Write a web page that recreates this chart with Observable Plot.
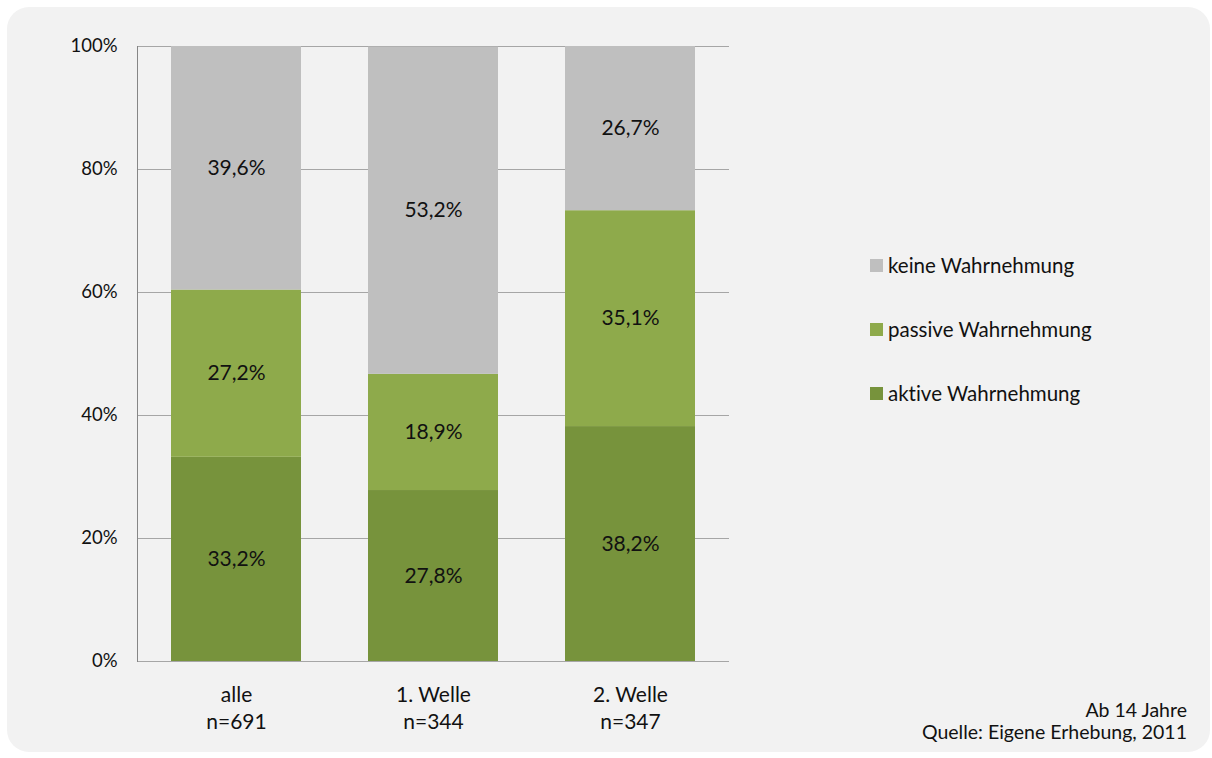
<!DOCTYPE html>
<html lang="de">
<head>
<meta charset="utf-8">
<script src="https://cdn.jsdelivr.net/npm/d3@7"></script>
<script src="https://cdn.jsdelivr.net/npm/@observablehq/plot@0.6"></script>
<style>
  html, body { margin: 0; padding: 0; background: #ffffff; }
  #wrap { position: relative; width: 1212px; height: 758px; font-family: Lato, "Open Sans", sans-serif; color: #111; font-variant-ligatures: none; }
  #wrap svg text { font-variant-ligatures: none; }
  #panel { position: absolute; left: 7px; top: 7px; width: 1203px; height: 745px; background: #f2f2f2; border-radius: 22px; }
  #chart { position: absolute; left: 0; top: 0; }
  #legend { position: absolute; left: 870px; top: 254px; font-size: 20.5px; }
  #legend .item { display: flex; align-items: center; height: 22px; margin-bottom: 42px; white-space: nowrap; }
  #legend .sw { width: 13px; height: 13px; margin-right: 5px; flex: none; }
  #note { position: absolute; right: 25px; top: 699px; font-size: 19.5px; line-height: 22px; text-align: right; white-space: nowrap; }
</style>
</head>
<body>
<div id="wrap">
  <div id="panel"></div>
  <div id="chart"></div>
  <div id="legend"></div>
  <div id="note">Ab 14 Jahre<br>Quelle: Eigene Erhebung, 2011</div>
</div>
<script>
// Gruppen (x-Achse) mit Stichprobengröße
const groups = ["alle", "1. Welle", "2. Welle"];
const sampleSizes = [691, 344, 347];

// Anteile in Prozent je Gruppe, von unten nach oben gestapelt
const series = ["aktive Wahrnehmung", "passive Wahrnehmung", "keine Wahrnehmung"];
const aktive = [33.2, 27.8, 38.2];
const passive = [27.2, 18.9, 35.1];
const keine = [39.6, 53.2, 26.7];
const colors = ["#77933c", "#8eaa4b", "#bfbfbf"];

const yTicks = [0, 20, 40, 60, 80, 100];

const rows = [];
groups.forEach((g, i) => {
  [aktive, passive, keine].forEach((vals, j) => {
    rows.push({group: g, series: series[j], value: vals[i]});
  });
});

const fmt = v => v.toFixed(1).replace(".", ",") + "%";
const groupLabel = g => `${g}\nn=${sampleSizes[groups.indexOf(g)]}`;

const chart = Plot.plot({
  width: 1212,
  height: 758,
  marginLeft: 137,
  marginRight: 483,
  marginTop: 46,
  marginBottom: 97,
  style: {background: "transparent", fontFamily: "Lato, 'Open Sans', sans-serif", fontSize: "18px", color: "#111"},
  x: {domain: groups, paddingInner: 0.34, paddingOuter: 0.17, label: null},
  y: {domain: [0, 100], label: null},
  color: {domain: series, range: colors},
  marks: [
    Plot.ruleY(yTicks, {stroke: "#a6a6a6", strokeWidth: 1}),
    Plot.barY(rows, Plot.stackY({x: "group", y: "value", fill: "series", order: series})),
    Plot.frame({anchor: "left", stroke: "#868686"}),
    Plot.textY(rows, Plot.stackY({
      x: "group", y: "value", z: "series", order: series,
      text: d => fmt(d.value), fontSize: 21, fill: "#111"
    })),
    Plot.axisY({ticks: yTicks, tickSize: 0, tickPadding: 20, tickFormat: d => d + "%", fontSize: 18.5, fill: "#111", label: null}),
    Plot.axisX({tickSize: 0, tickPadding: 21, tickFormat: groupLabel, lineHeight: 1.3, fontSize: 21, fill: "#111", label: null})
  ]
});
document.getElementById("chart").append(chart);

// Legende, oberster Stapelteil zuerst
const legend = document.getElementById("legend");
[...series].reverse().forEach(s => {
  const item = document.createElement("div");
  item.className = "item";
  const sw = document.createElement("span");
  sw.className = "sw";
  sw.style.background = colors[series.indexOf(s)];
  const label = document.createElement("span");
  label.textContent = s;
  item.append(sw, label);
  legend.append(item);
});
</script>
</body>
</html>
